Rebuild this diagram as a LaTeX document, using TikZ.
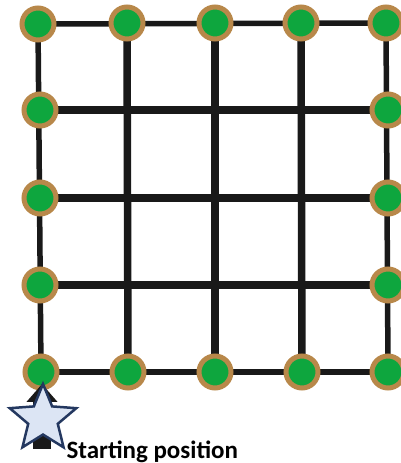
\documentclass[tikz,border=0pt]{standalone}
\usepackage{fontspec}
\setsansfont{Carlito}
\usepackage{xcolor}
\usetikzlibrary{arrows.meta,backgrounds,shapes.geometric}
\definecolor{SpotGreen}{RGB}{14,166,62}
\definecolor{SpotBrown}{RGB}{184,136,74}
\definecolor{StarFill}{RGB}{220,229,244}
\definecolor{StarEdge}{RGB}{36,56,96}

\begin{document}
\begin{tikzpicture}[
  x=1pt,y=1pt,
  font=\sffamily\bfseries,
  line/.style={line width=5.5pt,draw=black!90},
  inner line/.style={line,line width=7.5pt},
  spot/.style={circle,fill=SpotGreen,draw=SpotBrown,line width=5pt,minimum size=32pt,inner sep=0pt},
  pointer/.style={line width=18pt,draw=black!90,-{Triangle[length=18pt,width=30pt]}},
  startstar/.style={star,star points=5,star point ratio=2.25,minimum size=70pt,inner sep=0pt,fill=StarFill,draw=StarEdge,line width=2.5pt}
]
\useasboundingbox (0,0) rectangle (401,463);
% bottom and top rows
\node[spot] (b0) at (41,91) {};
\node[spot] (b1) at (128,91) {};
\node[spot] (b2) at (215,91) {};
\node[spot] (b3) at (302,91) {};
\node[spot] (b4) at (388,91) {};
\node[spot] (t0) at (38,439) {};
\node[spot] (t1) at (127,440) {};
\node[spot] (t2) at (215,440) {};
\node[spot] (t3) at (301,440) {};
\node[spot] (t4) at (386,440) {};
% side columns
\node[spot] (l1) at (40,178) {};
\node[spot] (l2) at (40,265) {};
\node[spot] (l3) at (40,353) {};
\node[spot] (r1) at (388,178) {};
\node[spot] (r2) at (388,265) {};
\node[spot] (r3) at (388,353) {};
\begin{scope}[on background layer]
\draw[line] (b0.center) -- (b4.center);
\draw[line] (t0.center) -- (t4.center);
\draw[line] (b0.center) -- (t0.center);
\draw[line] (b4.center) -- (t4.center);
\draw[inner line] (l1.center) -- (r1.center);
\draw[inner line] (l2.center) -- (r2.center);
\draw[inner line] (l3.center) -- (r3.center);
\draw[inner line] (b1.center) -- (t1.center);
\draw[inner line] (b2.center) -- (t2.center);
\draw[inner line] (b3.center) -- (t3.center);
\end{scope}
% start marker
\coordinate (tail) at (42,14);
\coordinate (tip) at (42,79);
\draw[pointer] (tail) -- (tip);
\node[startstar] (start) at (43,44) {};
\node[anchor=base west,font=\sffamily\bfseries\fontsize{25}{30}\selectfont] (startlabel) at (63,5) {Starting position};
\end{tikzpicture}
\end{document}
